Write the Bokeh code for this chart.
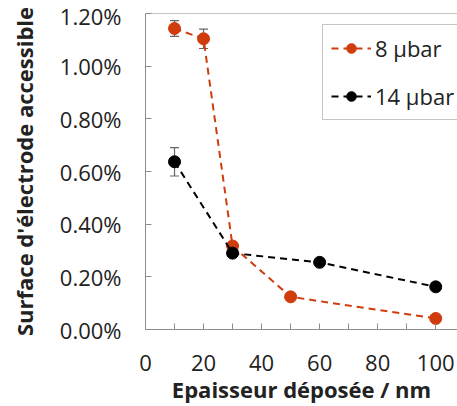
from bokeh.plotting import figure
from bokeh.models import (Range1d, NumeralTickFormatter, FixedTicker, Whisker,
                          ColumnDataSource, Span, TeeHead, Legend, LegendItem)
from bokeh.embed import file_html
from bokeh.resources import INLINE

# Data
thickness_8 = [10, 20, 30, 50, 100]
surface_8 = [0.01143, 0.01104, 0.00317, 0.00124, 0.00042]
err_8 = [0.00030, 0.00037, 0.0, 0.0, 0.0]

thickness_14 = [10, 30, 60, 100]
surface_14 = [0.00637, 0.00290, 0.00255, 0.00162]
err_14 = [0.00054, 0.0, 0.0, 0.0]

x_major_ticks = [0, 20, 40, 60, 80, 100]
x_minor_ticks = [10, 30, 50, 70, 90]
y_ticks = [0.0, 0.002, 0.004, 0.006, 0.008, 0.010, 0.012]

label_8 = "8 µbar"
label_14 = "14 µbar"

RED = "#d03c0c"
BLACK = "#000000"
GREY = "#8c8c8c"
ERR = "#666666"
FONT = "Open Sans"

p = figure(width=457, height=406, output_backend="svg", toolbar_location=None,
           x_range=Range1d(0, 107.5), y_range=Range1d(0, 0.012),
           min_border_left=145, min_border_top=13, min_border_bottom=76,
           min_border_right=0)
p.grid.visible = False
p.outline_line_color = None
p.background_fill_color = "white"
p.border_fill_color = "white"

# top border line
p.add_layout(Span(location=0.012, dimension="width", line_color=GREY, line_width=1))

# axes styling
for ax in (p.xaxis[0], p.yaxis[0]):
    ax.axis_line_color = GREY
    ax.major_tick_line_color = GREY
    ax.minor_tick_line_color = GREY
    ax.major_tick_in = 6
    ax.major_tick_out = 0
    ax.minor_tick_in = 6
    ax.minor_tick_out = 0
    ax.major_label_text_font = FONT
    ax.major_label_text_font_size = "22px"
    ax.major_label_text_color = "#222222"
    ax.axis_label_text_font = FONT
    ax.axis_label_text_font_size = "22px"
    ax.axis_label_text_font_style = "bold"
    ax.axis_label_text_color = "#222222"

p.xaxis.ticker = FixedTicker(ticks=x_major_ticks, minor_ticks=x_minor_ticks)
p.yaxis.ticker = FixedTicker(ticks=y_ticks, minor_ticks=[])
p.yaxis.formatter = NumeralTickFormatter(format="0.00%")
p.xaxis.axis_label = "Epaisseur déposée / nm"
p.yaxis.axis_label = "Surface d'électrode accessible"
p.xaxis.major_label_standoff = 25
p.xaxis.axis_label_standoff = 0
p.yaxis.major_label_standoff = 24
p.yaxis.axis_label_standoff = 18

# error bars
def whisker_source(xs, ys, es):
    xx, lo, hi = [], [], []
    for x, y, e in zip(xs, ys, es):
        if e > 0:
            xx.append(x); lo.append(y - e); hi.append(y + e)
    return ColumnDataSource(dict(x=xx, lower=lo, upper=hi))

for xs, ys, es in ((thickness_8, surface_8, err_8), (thickness_14, surface_14, err_14)):
    w = Whisker(source=whisker_source(xs, ys, es), base="x", lower="lower", upper="upper",
                line_color=ERR, line_width=1.2,
                upper_head=TeeHead(size=9, line_color=ERR, line_width=1.2),
                lower_head=TeeHead(size=9, line_color=ERR, line_width=1.2))
    p.add_layout(w)

l8 = p.line(thickness_8, surface_8, line_color=RED, line_width=2, line_dash="7 5")
s8 = p.scatter(thickness_8, surface_8, size=12, fill_color=RED, line_color=RED)
l14 = p.line(thickness_14, surface_14, line_color=BLACK, line_width=2, line_dash="7 5")
s14 = p.scatter(thickness_14, surface_14, size=12, fill_color=BLACK, line_color=BLACK)

legend = Legend(items=[LegendItem(label=label_8, renderers=[l8, s8]),
                       LegendItem(label=label_14, renderers=[l14, s14])],
                location=(177, 209), margin=0, padding=8, spacing=18,
                glyph_width=40, glyph_height=24, label_height=24,
                label_standoff=4, label_text_font=FONT, label_text_font_size="22px",
                label_text_color="#222222",
                border_line_color=GREY, border_line_width=1,
                background_fill_color="white", background_fill_alpha=1.0)
p.add_layout(legend, "center")

open("out.html", "w").write(file_html(p, INLINE))
